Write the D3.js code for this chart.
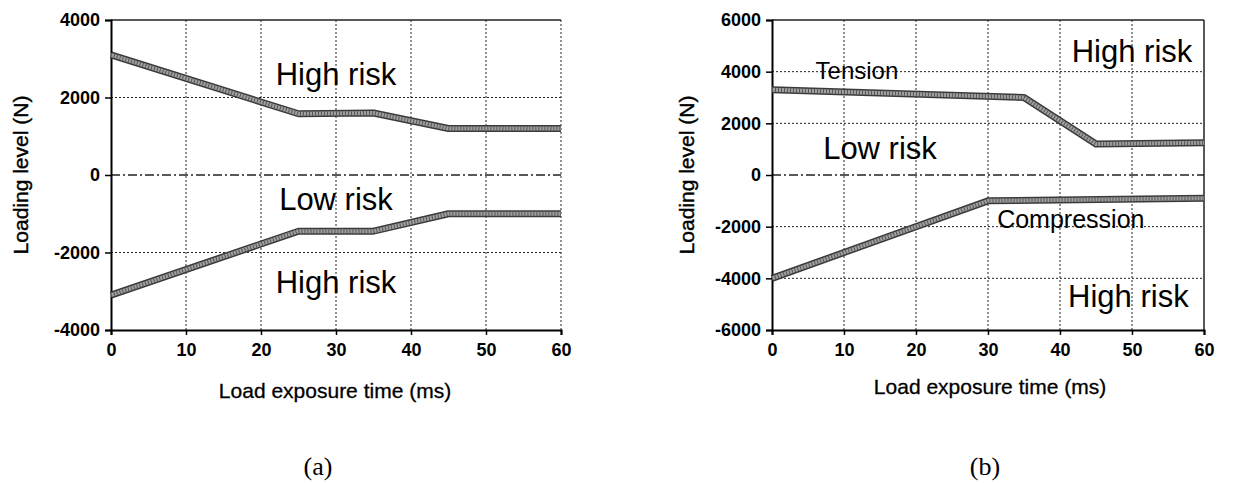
<!DOCTYPE html>
<html>
<head>
<meta charset="utf-8">
<script src="https://cdn.jsdelivr.net/npm/d3@7"></script>
<style>
  body { margin: 0; background: #fff; }
  svg text { font-family: "Liberation Sans", Arial, sans-serif; }
</style>
</head>
<body>
<div id="chart"></div>
<script>
// Data
const timeTicks = [0, 10, 20, 30, 40, 50, 60];

// panel (a)
const aLevelTicks = [-4000, -2000, 0, 2000, 4000];
const aUpperTime = [0, 25, 35, 45, 60];
const aUpperLoad = [3100, 1580, 1600, 1200, 1200];
const aLowerTime = [0, 25, 35, 45, 60];
const aLowerLoad = [-3100, -1450, -1450, -1000, -1000];

// panel (b)
const bLevelTicks = [-6000, -4000, -2000, 0, 2000, 4000, 6000];
const bUpperTime = [0, 35, 45, 60];
const bUpperLoad = [3300, 3000, 1200, 1250];
const bLowerTime = [0, 30, 60];
const bLowerLoad = [-4000, -1000, -900];

const W = 1243, H = 483;

const svg = d3.select("#chart")
    .append("svg")
    .attr("width", W)
    .attr("height", H);

svg.append("rect").attr("width", W).attr("height", H).attr("fill", "#fff");

function drawPanel(opt) {
    let g = svg.append("g");

    let x = d3.scaleLinear().domain([0, 60]).range([opt.left, opt.right]);
    let y = d3.scaleLinear().domain(opt.yDomain).range([opt.bottom, opt.top]);

    // grid
    g.selectAll(".vgrid")
        .data(timeTicks.slice(1))
        .enter().append("line")
        .attr("x1", d => x(d)).attr("x2", d => x(d))
        .attr("y1", opt.top).attr("y2", opt.bottom)
        .attr("stroke", "#222")
        .attr("stroke-width", d => (d === 60 && opt.solidRight) ? 1.5 : 1)
        .attr("stroke-dasharray", d => (d === 60 && opt.solidRight) ? null : "2,2");
    g.selectAll(".hgrid")
        .data(opt.yTicks.filter(d => d !== opt.yDomain[0]))
        .enter().append("line")
        .attr("x1", opt.left).attr("x2", opt.right)
        .attr("y1", d => y(d)).attr("y2", d => y(d))
        .attr("stroke", "#222")
        .attr("stroke-width", d => (d === 0 || d === opt.yDomain[1]) ? 1.5 : 1)
        .attr("stroke-dasharray", d => d === 0 ? "9,3,2,3" : (d === opt.yDomain[1] ? null : "2,2"));

    // axes
    let xAxis = g.append("g")
        .attr("transform", "translate(0," + opt.bottom + ")")
        .call(d3.axisBottom(x).tickValues(timeTicks).tickSize(5).tickPadding(8));
    let yAxis = g.append("g")
        .attr("transform", "translate(" + opt.left + ",0)")
        .call(d3.axisLeft(y).tickValues(opt.yTicks).tickSize(6).tickPadding(5).tickFormat(d => String(d)));
    [xAxis, yAxis].forEach(a => {
        a.select(".domain").attr("stroke", "#000").attr("stroke-width", 2);
        a.selectAll(".tick line").attr("stroke", "#000").attr("stroke-width", 1.5);
        a.selectAll("text")
            .attr("fill", "#000")
            .style("font-size", "18px")
            .style("font-weight", "bold");
    });

    // the curves: dark rim, grey hatched core
    let line = d3.line().x(d => x(d[0])).y(d => y(d[1]));
    opt.series.forEach(s => {
        let pts = s.t.map((t, i) => [t, s.v[i]]);
        g.append("path").attr("d", line(pts))
            .attr("fill", "none").attr("stroke", "#3a3a3a")
            .attr("stroke-width", 7).attr("stroke-linejoin", "round");
        g.append("path").attr("d", line(pts))
            .attr("fill", "none").attr("stroke", "#a0a0a0")
            .attr("stroke-width", 4).attr("stroke-linejoin", "round");
        g.append("path").attr("d", line(pts))
            .attr("fill", "none").attr("stroke", "#555")
            .attr("stroke-width", 4).attr("stroke-dasharray", "1,2")
            .attr("stroke-linejoin", "round");
    });

    // region labels
    opt.labels.forEach(l => {
        g.append("text")
            .attr("x", x(l.t)).attr("y", y(l.v))
            .attr("text-anchor", "middle")
            .attr("dominant-baseline", "middle")
            .style("font-size", l.size + "px")
            .text(l.text);
    });

    // axis titles
    g.append("text")
        .attr("transform", "translate(" + opt.yTitleX + "," + ((opt.top + opt.bottom) / 2) + ") rotate(-90)")
        .attr("text-anchor", "middle")
        .attr("dominant-baseline", "middle")
        .attr("stroke", "#000").attr("stroke-width", 0.4)
        .style("font-size", "21px")
        .text(opt.yTitle);
    g.append("text")
        .attr("x", (opt.left + opt.right) / 2 + opt.xTitleDx).attr("y", opt.xTitleY)
        .attr("text-anchor", "middle")
        .attr("stroke", "#000").attr("stroke-width", 0.3)
        .style("font-size", "21px")
        .text(opt.xTitle);

    g.append("text")
        .attr("x", opt.capX).attr("y", 475)
        .attr("text-anchor", "middle")
        .style("font-family", "'Liberation Serif', 'Times New Roman', serif")
        .style("font-size", "26px")
        .text(opt.caption);
}

drawPanel({
    left: 111, right: 561, top: 20, bottom: 330,
    yDomain: [-4000, 4000], yTicks: aLevelTicks,
    series: [{t: aUpperTime, v: aUpperLoad}, {t: aLowerTime, v: aLowerLoad}],
    labels: [
        {text: "High risk", t: 30, v: 2540, size: 31},
        {text: "Low risk", t: 30, v: -680, size: 31},
        {text: "High risk", t: 30, v: -2840, size: 31}
    ],
    yTitle: "Loading level  (N)", yTitleX: 22,
    xTitle: "Load exposure time  (ms)", xTitleY: 398, xTitleDx: -1,
    solidRight: false,
    caption: "(a)", capX: 318
});

drawPanel({
    left: 772, right: 1204, top: 20, bottom: 330,
    yDomain: [-6000, 6000], yTicks: bLevelTicks,
    series: [{t: bUpperTime, v: bUpperLoad}, {t: bLowerTime, v: bLowerLoad}],
    labels: [
        {text: "Tension", t: 11.8, v: 3950, size: 24},
        {text: "High risk", t: 50, v: 4700, size: 31},
        {text: "Low risk", t: 15, v: 950, size: 31},
        {text: "Compression", t: 41.5, v: -1800, size: 25},
        {text: "High risk", t: 49.5, v: -4800, size: 31}
    ],
    yTitle: "Loading level (N)", yTitleX: 688,
    xTitle: "Load exposure time (ms)", xTitleY: 394, xTitleDx: 2,
    solidRight: true,
    caption: "(b)", capX: 985
});
</script>
</body>
</html>
